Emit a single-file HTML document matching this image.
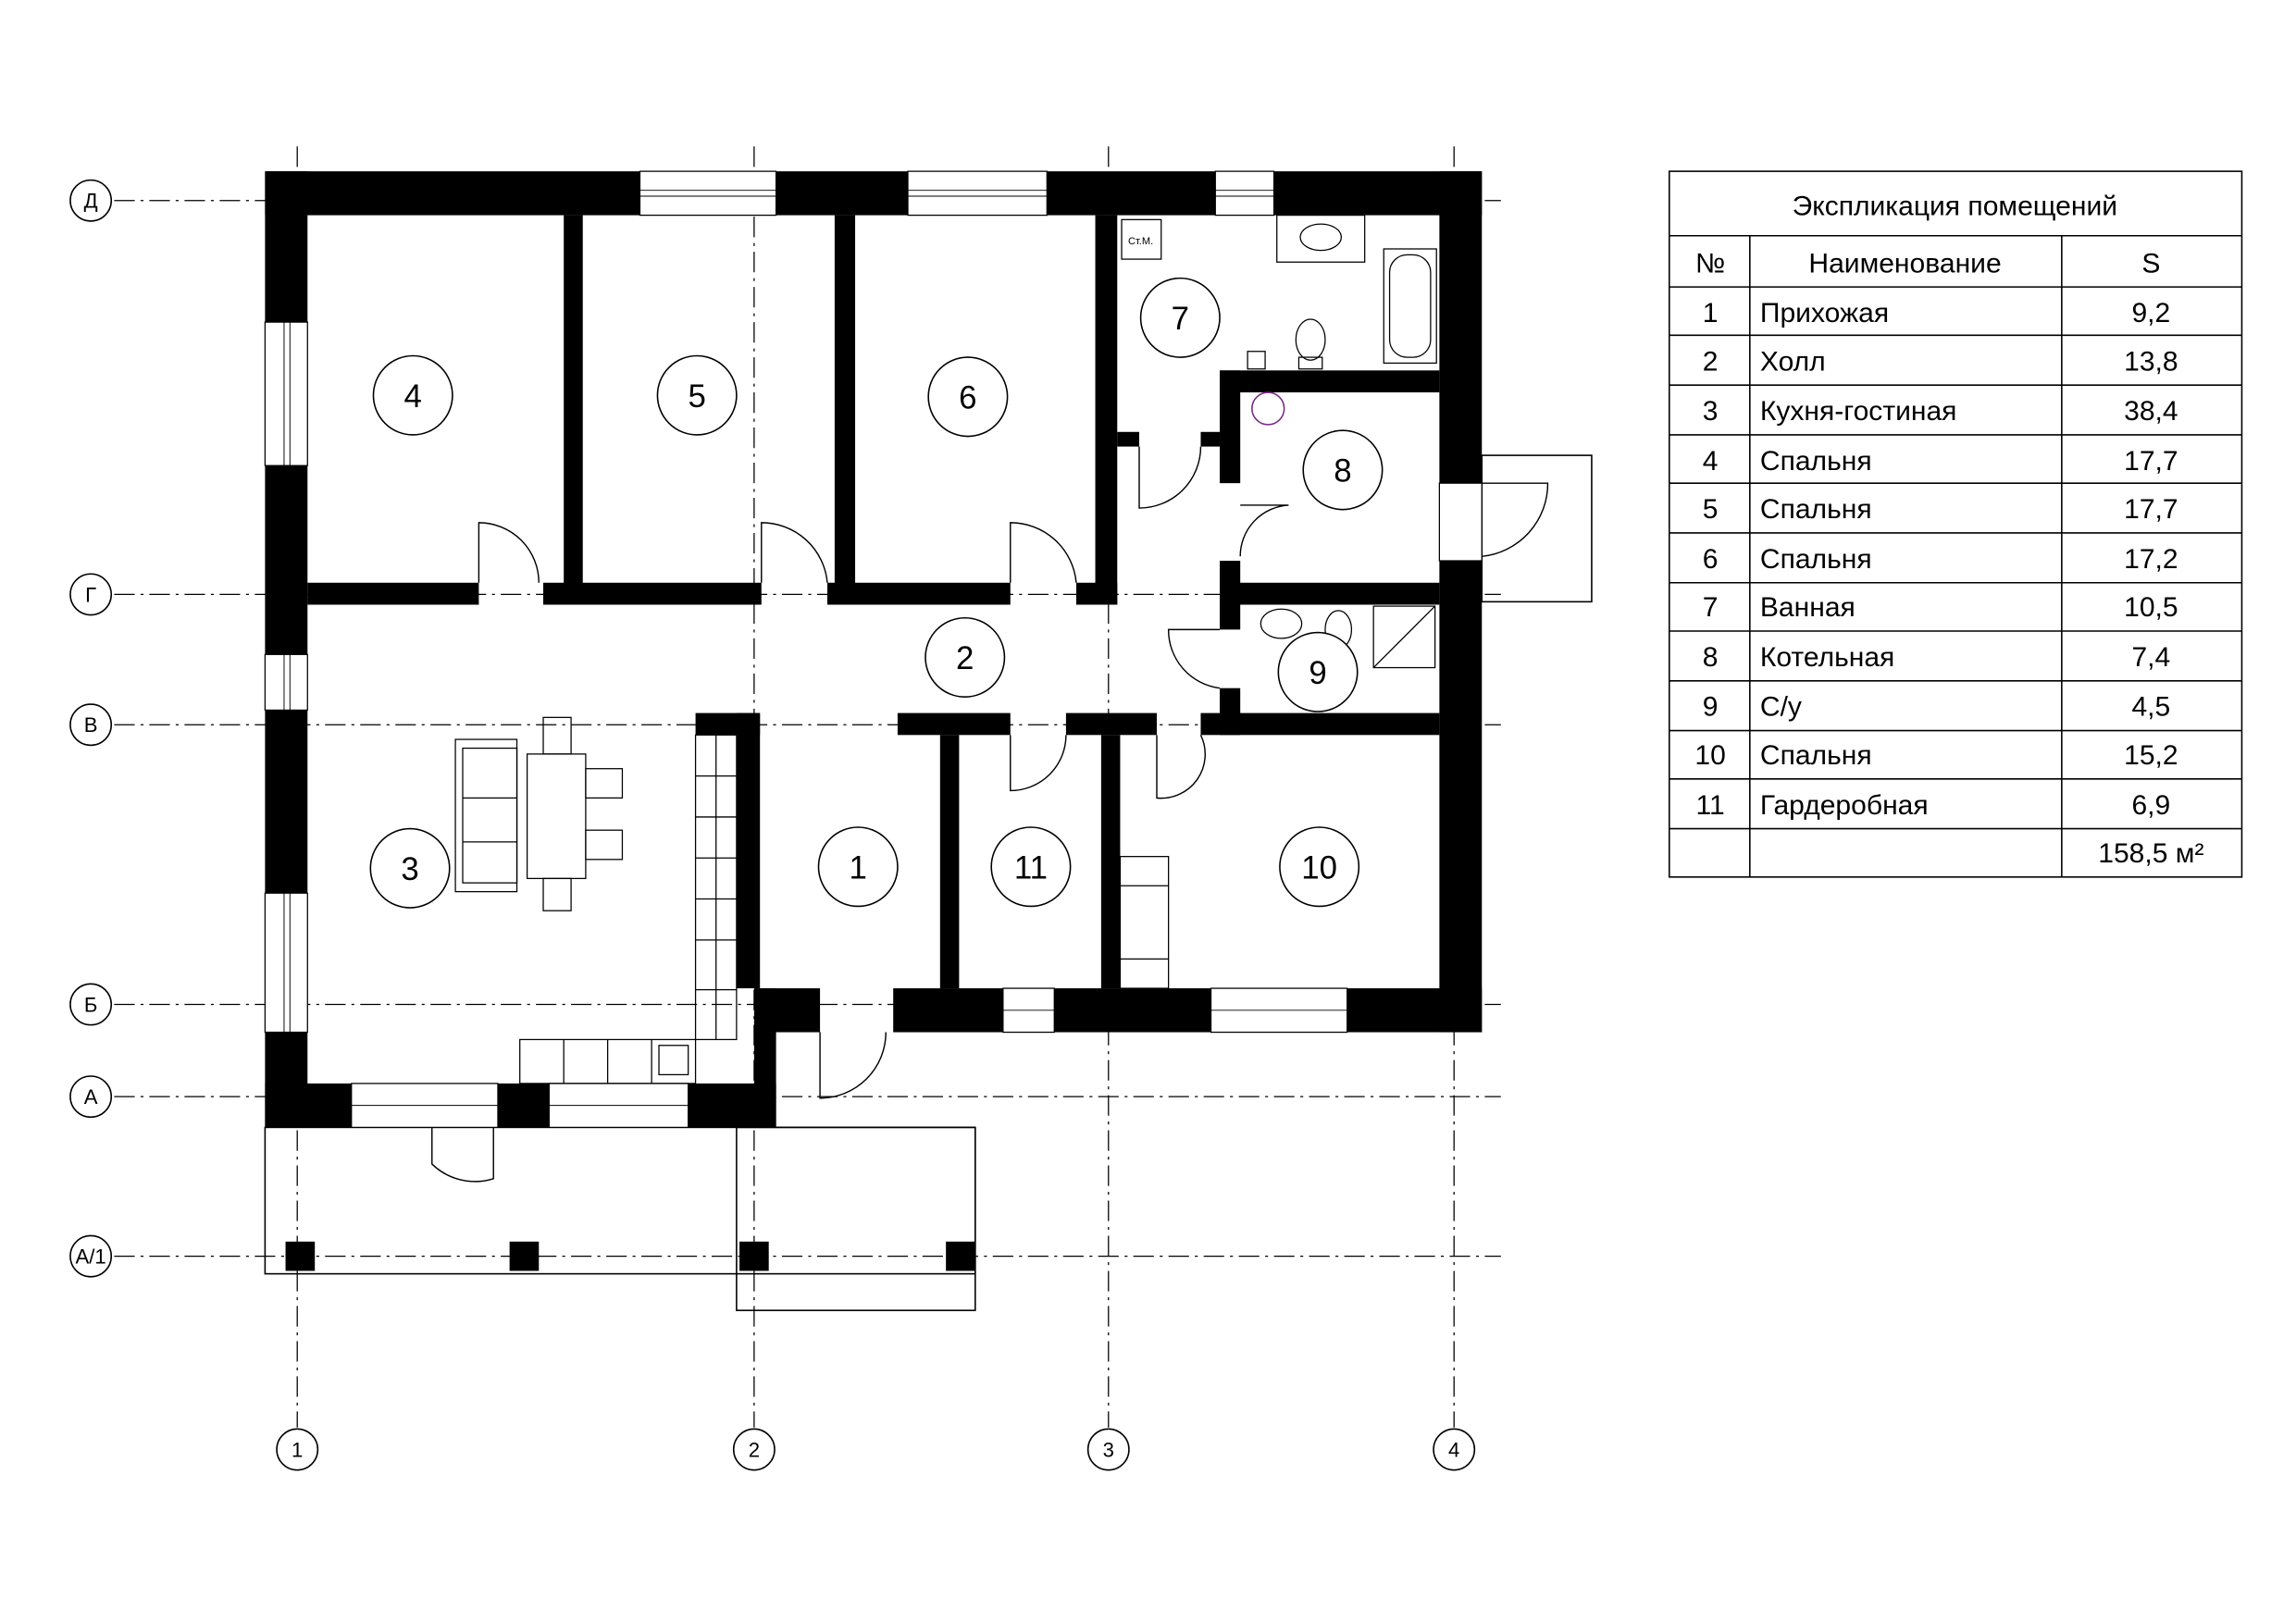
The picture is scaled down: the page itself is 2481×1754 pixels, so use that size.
<!DOCTYPE html>
<html><head><meta charset="utf-8"><style>
html,body{margin:0;padding:0;background:#fff}
svg{display:block}
text{font-family:"Liberation Sans",sans-serif;fill:#000}
</style></head><body>
<svg width="2481" height="1754" viewBox="0 0 1568 1108.5" preserveAspectRatio="none" xmlns="http://www.w3.org/2000/svg">
<rect width="1568" height="1109" fill="#fff"/>
<!-- grid -->
<g stroke="#000" stroke-width="0.8" stroke-dasharray="14,4,2,4" fill="none">
<line x1="78" y1="137" x2="1025" y2="137"/>
<line x1="78" y1="406" x2="1025" y2="406"/>
<line x1="78" y1="495" x2="1025" y2="495"/>
<line x1="78" y1="686" x2="1025" y2="686"/>
<line x1="78" y1="749" x2="1025" y2="749"/>
<line x1="78" y1="858" x2="1025" y2="858"/>
<line x1="203" y1="100" x2="203" y2="975"/>
<line x1="515" y1="100" x2="515" y2="975"/>
<line x1="757" y1="100" x2="757" y2="975"/>
<line x1="993" y1="100" x2="993" y2="975"/>
</g>
<g fill="#fff" stroke="#000" stroke-width="1">
<circle cx="62" cy="137" r="14"/><circle cx="62" cy="406" r="14"/><circle cx="62" cy="495" r="14"/>
<circle cx="62" cy="686" r="14"/><circle cx="62" cy="749" r="14"/><circle cx="62" cy="858" r="14"/>
<circle cx="203" cy="990" r="14"/><circle cx="515" cy="990" r="14"/><circle cx="757" cy="990" r="14"/><circle cx="993" cy="990" r="14"/>
</g>
<g font-size="14" text-anchor="middle">
<text x="62" y="142">Д</text><text x="62" y="411">Г</text><text x="62" y="500">В</text>
<text x="62" y="691">Б</text><text x="62" y="754">А</text><text x="62" y="863">А/1</text>
<text x="203" y="995">1</text><text x="515" y="995">2</text><text x="757" y="995">3</text><text x="993" y="995">4</text>
</g>
<!-- porches -->
<g fill="none" stroke="#000" stroke-width="1">
<rect x="181" y="770" width="485" height="100"/>
<rect x="503" y="770" width="163" height="125"/>
<rect x="1012" y="311" width="75" height="100"/>
</g>
<g fill="#000">
<rect x="195" y="848" width="20" height="20"/><rect x="348" y="848" width="20" height="20"/>
<rect x="505" y="848" width="20" height="20"/><rect x="646" y="848" width="20" height="20"/>
</g>
<!-- window frames -->
<g fill="#fff" stroke="#000" stroke-width="0.8">
<rect x="437" y="117" width="93" height="30"/><rect x="620" y="117" width="95" height="30"/><rect x="830" y="117" width="40" height="30"/>
<rect x="181" y="220" width="29" height="98"/><rect x="181" y="447" width="29" height="38"/><rect x="181" y="610" width="29" height="95"/>
<rect x="240" y="740" width="100" height="30"/><rect x="375" y="740" width="95" height="30"/>
<rect x="685" y="675" width="35" height="30"/><rect x="827" y="675" width="93" height="30"/>
<rect x="983" y="330" width="29" height="53"/>
</g>
<g stroke="#000" stroke-width="0.6">
<line x1="437" y1="130" x2="530" y2="130"/><line x1="437" y1="134" x2="530" y2="134"/>
<line x1="620" y1="130" x2="715" y2="130"/><line x1="620" y1="134" x2="715" y2="134"/>
<line x1="830" y1="130" x2="870" y2="130"/><line x1="830" y1="134" x2="870" y2="134"/>
<line x1="194" y1="220" x2="194" y2="318"/><line x1="198" y1="220" x2="198" y2="318"/>
<line x1="194" y1="447" x2="194" y2="485"/><line x1="198" y1="447" x2="198" y2="485"/>
<line x1="194" y1="610" x2="194" y2="705"/><line x1="198" y1="610" x2="198" y2="705"/>
<line x1="240" y1="755" x2="340" y2="755"/><line x1="375" y1="755" x2="470" y2="755"/>
<line x1="685" y1="690" x2="720" y2="690"/><line x1="827" y1="690" x2="920" y2="690"/>
</g>
<!-- walls -->
<g fill="#000">
<rect x="181" y="117" width="256" height="30"/><rect x="530" y="117" width="90" height="30"/>
<rect x="715" y="117" width="115" height="30"/><rect x="870" y="117" width="142" height="30"/>
<rect x="181" y="117" width="29" height="103"/><rect x="181" y="318" width="29" height="129"/>
<rect x="181" y="485" width="29" height="125"/><rect x="181" y="705" width="29" height="65"/>
<rect x="983" y="117" width="29" height="213"/><rect x="983" y="383" width="29" height="322"/>
<rect x="181" y="740" width="59" height="30"/><rect x="340" y="740" width="35" height="30"/><rect x="470" y="740" width="60" height="30"/>
<rect x="515" y="675" width="15" height="95"/>
<rect x="519" y="675" width="41" height="30"/><rect x="610" y="675" width="75" height="30"/>
<rect x="720" y="675" width="107" height="30"/><rect x="920" y="675" width="92" height="30"/>
<rect x="210" y="398" width="117" height="15"/><rect x="371" y="398" width="149" height="15"/>
<rect x="565" y="398" width="125" height="15"/><rect x="735" y="398" width="28" height="15"/>
<rect x="385" y="147" width="13" height="260"/><rect x="570" y="147" width="14" height="260"/>
<rect x="748" y="147" width="15" height="266"/>
<rect x="833" y="253" width="150" height="15"/>
<rect x="833" y="253" width="14" height="77"/><rect x="833" y="383" width="14" height="47"/><rect x="833" y="470" width="14" height="32"/>
<rect x="833" y="398" width="150" height="15"/>
<rect x="820" y="487" width="163" height="15"/>
<rect x="763" y="295" width="15" height="10"/><rect x="820" y="295" width="13" height="10"/>
<rect x="613" y="487" width="77" height="15"/><rect x="728" y="487" width="62" height="15"/>
<rect x="475" y="487" width="44" height="15"/><rect x="503" y="487" width="16" height="188"/>
<rect x="642" y="502" width="13" height="173"/><rect x="752" y="502" width="13" height="173"/>
</g>
<!-- doors -->
<g fill="none" stroke="#000" stroke-width="0.9">
<path d="M327 398 L327 357 A41 41 0 0 1 368 398"/>
<path d="M520 398 L520 357 A45 45 0 0 1 565 398"/>
<path d="M690 398 L690 357 A45 45 0 0 1 735 398"/>
<path d="M778 305 L778 347 A42 42 0 0 0 820 305"/>
<path d="M847 345 L880 345 A35 35 0 0 0 847 380"/>
<path d="M833 430 L798 430 A40 40 0 0 0 833 470"/>
<path d="M690 502 L690 540 A38 38 0 0 0 728 502"/>
<path d="M790 502 L790 545 A30 30 0 0 0 820 502"/>
<path d="M560 705 L560 750 A45 45 0 0 0 605 705"/>
<path d="M295 770 L295 795 A42 42 0 0 0 337 805 L337 770"/>
<path d="M1012 330 L1057 330 A50 50 0 0 1 1012 380"/>
</g>
<!-- furniture -->
<g fill="none" stroke="#000" stroke-width="0.8">
<rect x="311" y="505" width="42" height="104"/><rect x="316" y="511" width="37" height="92"/>
<line x1="316" y1="545" x2="353" y2="545"/><line x1="316" y1="575" x2="353" y2="575"/>
<rect x="360" y="515" width="40" height="85"/>
<rect x="371" y="490" width="19" height="25"/><rect x="371" y="600" width="19" height="22"/>
<rect x="400" y="525" width="25" height="20"/><rect x="400" y="567" width="25" height="20"/>
<rect x="475" y="502" width="28" height="208"/>
<line x1="489" y1="502" x2="489" y2="710"/>
<line x1="475" y1="530" x2="503" y2="530"/><line x1="475" y1="558" x2="503" y2="558"/><line x1="475" y1="586" x2="503" y2="586"/>
<line x1="475" y1="614" x2="503" y2="614"/><line x1="475" y1="642" x2="503" y2="642"/><line x1="475" y1="676" x2="503" y2="676"/>
<rect x="355" y="710" width="120" height="30"/><line x1="385" y1="710" x2="385" y2="740"/><line x1="415" y1="710" x2="415" y2="740"/><line x1="445" y1="710" x2="445" y2="740"/>
<rect x="450" y="714" width="20" height="20"/>
<rect x="765" y="585" width="33" height="90"/><line x1="765" y1="605" x2="798" y2="605"/><line x1="765" y1="655" x2="798" y2="655"/>
<rect x="872" y="147" width="60" height="32"/><ellipse cx="902" cy="162" rx="14" ry="9"/>
<rect x="945" y="170" width="36" height="78"/><rect x="949" y="174" width="28" height="70" rx="12"/>
<ellipse cx="895" cy="232" rx="10" ry="14"/><rect x="887" y="244" width="16" height="8"/>
<rect x="852" y="240" width="12" height="12"/>
<rect x="766" y="150" width="27" height="27"/>
<ellipse cx="875" cy="426" rx="14" ry="10"/><ellipse cx="914" cy="430" rx="9" ry="13"/>
<rect x="938" y="414" width="42" height="42"/><line x1="938" y1="456" x2="980" y2="414"/>
</g>
<circle cx="866" cy="279" r="11" fill="none" stroke="#7a2a8a" stroke-width="1"/>
<text x="779" y="167" font-size="7" text-anchor="middle" fill="#888">Ст.М.</text>
<!-- room labels -->
<g fill="#fff" stroke="#000" stroke-width="1">
<circle cx="282" cy="270" r="27"/><circle cx="476" cy="270" r="27"/><circle cx="661" cy="271" r="27"/>
<circle cx="806" cy="217" r="27"/><circle cx="917" cy="321" r="27"/><circle cx="659" cy="449" r="27"/>
<circle cx="900" cy="459" r="27"/><circle cx="280" cy="593" r="27"/><circle cx="586" cy="592" r="27"/>
<circle cx="704" cy="592" r="27"/><circle cx="901" cy="592" r="27"/>
</g>
<g font-size="22" text-anchor="middle">
<text x="282" y="278">4</text><text x="476" y="278">5</text><text x="661" y="279">6</text>
<text x="806" y="225">7</text><text x="917" y="329">8</text><text x="659" y="457">2</text>
<text x="900" y="467">9</text><text x="280" y="601">3</text><text x="586" y="600">1</text>
<text x="704" y="600">11</text><text x="901" y="600">10</text>
</g>
<!-- table -->
<g fill="none" stroke="#000" stroke-width="1">
<rect x="1140" y="117" width="391" height="482"/>
<line x1="1140" y1="161" x2="1531" y2="161"/>
<line x1="1140" y1="196" x2="1531" y2="196"/><line x1="1140" y1="229" x2="1531" y2="229"/>
<line x1="1140" y1="263" x2="1531" y2="263"/><line x1="1140" y1="297" x2="1531" y2="297"/>
<line x1="1140" y1="330" x2="1531" y2="330"/><line x1="1140" y1="364" x2="1531" y2="364"/>
<line x1="1140" y1="398" x2="1531" y2="398"/><line x1="1140" y1="431" x2="1531" y2="431"/>
<line x1="1140" y1="465" x2="1531" y2="465"/><line x1="1140" y1="499" x2="1531" y2="499"/>
<line x1="1140" y1="532" x2="1531" y2="532"/><line x1="1140" y1="566" x2="1531" y2="566"/>
<line x1="1195" y1="161" x2="1195" y2="599"/><line x1="1408" y1="161" x2="1408" y2="599"/>
</g>
<g font-size="19">
<text x="1335" y="147" text-anchor="middle">Экспликация помещений</text>
<text x="1168" y="186" text-anchor="middle">№</text><text x="1301" y="186" text-anchor="middle">Наименование</text><text x="1469" y="186" text-anchor="middle">S</text>
<g text-anchor="middle">
<text x="1168" y="220">1</text><text x="1168" y="253">2</text><text x="1168" y="287">3</text><text x="1168" y="321">4</text>
<text x="1168" y="354">5</text><text x="1168" y="388">6</text><text x="1168" y="421">7</text><text x="1168" y="455">8</text>
<text x="1168" y="489">9</text><text x="1168" y="522">10</text><text x="1168" y="556">11</text>
<text x="1469" y="220">9,2</text><text x="1469" y="253">13,8</text><text x="1469" y="287">38,4</text><text x="1469" y="321">17,7</text>
<text x="1469" y="354">17,7</text><text x="1469" y="388">17,2</text><text x="1469" y="421">10,5</text><text x="1469" y="455">7,4</text>
<text x="1469" y="489">4,5</text><text x="1469" y="522">15,2</text><text x="1469" y="556">6,9</text>
<text x="1469" y="589">158,5 м²</text>
</g>
<text x="1202" y="220">Прихожая</text><text x="1202" y="253">Холл</text><text x="1202" y="287">Кухня-гостиная</text>
<text x="1202" y="321">Спальня</text><text x="1202" y="354">Спальня</text><text x="1202" y="388">Спальня</text>
<text x="1202" y="421">Ванная</text><text x="1202" y="455">Котельная</text><text x="1202" y="489">С/у</text>
<text x="1202" y="522">Спальня</text><text x="1202" y="556">Гардеробная</text>
</g>
</svg>
</body></html>
